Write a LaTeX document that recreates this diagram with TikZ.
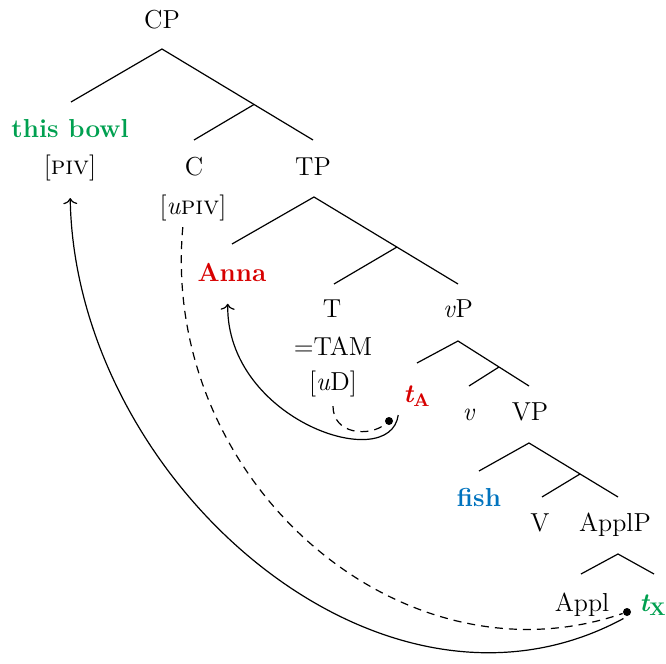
\documentclass[tikz,border=0pt]{standalone}
\usepackage{tikz}
\usetikzlibrary{arrows.meta}

\definecolor{pivgreen}{RGB}{0,160,80}
\definecolor{agentred}{RGB}{215,0,0}
\definecolor{themeblue}{RGB}{0,115,190}

\tikzset{
  lab/.style={font=\fontsize{13}{15}\selectfont, anchor=base, inner sep=2pt},
  trace/.style={circle, fill, inner sep=0pt, minimum size=4pt},
  move/.style={-{To[length=3pt,width=7pt]}},
  agree/.style={dash pattern=on 4pt off 3pt}
}

\begin{document}
\begin{tikzpicture}[x=0.5pt, y=-0.5pt, line width=0.6pt]
\useasboundingbox (0,0) rectangle (666,664);

% labels
\node[lab] (cp) at (162,28) {CP};
\node[lab, pivgreen] (bowl) at (70,137) {\bfseries this bowl};
\node[lab] (piv) at (70,175) {[\textsc{piv}]};
\node[lab] (c) at (194,176) {C};
\node[lab] (upiv) at (193,214) {[\textit{u}\textsc{piv}]};
\node[lab] (tp) at (313,176) {TP};
\node[lab, agentred] (anna) at (232,281) {\bfseries Anna};
\node[lab] (t) at (332,317) {T};
\node[lab] (tam) at (333,356) {=TAM};
\node[lab] (ud) at (333,391) {[\textit{u}D]};
\node[lab] (littlevp) at (458,317) {\textit{v}P};
\node[lab, agentred] (ta) at (417,402) {\bfseries\itshape t\textsubscript{\upshape A}};
\node[lab] (littlev) at (469,421) {\textit{v}};
\node[lab] (vp) at (530,421) {VP};
\node[lab, themeblue] (fish) at (479,506) {\bfseries fish};
\node[lab] (v) at (540,531) {V};
\node[lab] (applp) at (615,531) {ApplP};
\node[lab] (appl) at (582,611) {Appl};
\node[lab, pivgreen] (tx) at (653,611) {\bfseries\itshape t\textsubscript{\upshape X}};

\node[trace] (dota) at (389,421) {};
\node[trace] (dotx) at (627,612) {};

% branch ends
\coordinate (cp-t) at (162,49);   \coordinate (cp-l) at (71,102);   \coordinate (cp-r) at (313,140);
\coordinate (cp-b) at (254,104.5); \coordinate (cp-bl) at (194,140);
\coordinate (tp-t) at (314,197);  \coordinate (tp-l) at (232,244);  \coordinate (tp-r) at (458,284);
\coordinate (tp-b) at (397,247);  \coordinate (tp-bl) at (334,284);
\coordinate (littlevp-t) at (458,341); \coordinate (littlevp-l) at (417,363); \coordinate (littlevp-r) at (529,386);
\coordinate (littlevp-b) at (499,367); \coordinate (littlevp-bl) at (469,386);
\coordinate (vp-t) at (529,443);  \coordinate (vp-l) at (479,471);  \coordinate (vp-r) at (618,497);
\coordinate (vp-b) at (580,474);  \coordinate (vp-bl) at (542,497);
\coordinate (applp-t) at (618,554); \coordinate (applp-l) at (581,574); \coordinate (applp-r) at (654,574);

\foreach \n in {cp,tp,littlevp,vp,applp}
    \draw (\n-l) -- (\n-t) -- (\n-r);
\foreach \n in {cp,tp,littlevp,vp}
    \draw (\n-b) -- (\n-bl);

% movement and agreement
\draw[move, shorten <=2pt, shorten >=6pt] (dotx.south) .. controls (380,750) and (75,480) .. (piv.south);
\draw[agree, shorten <=1pt] ([xshift=-5pt]upiv.south) .. controls (160,480) and (400,690) .. (dotx);
\draw[move, shorten <=2pt, shorten >=9pt] (ta.south west) .. controls (390,475) and (226,420) .. ([xshift=-2pt]anna.south);
\draw[agree, shorten <=2pt] (ud.south) .. controls (333,435) and (370,437) .. (dota);
\end{tikzpicture}
\end{document}
